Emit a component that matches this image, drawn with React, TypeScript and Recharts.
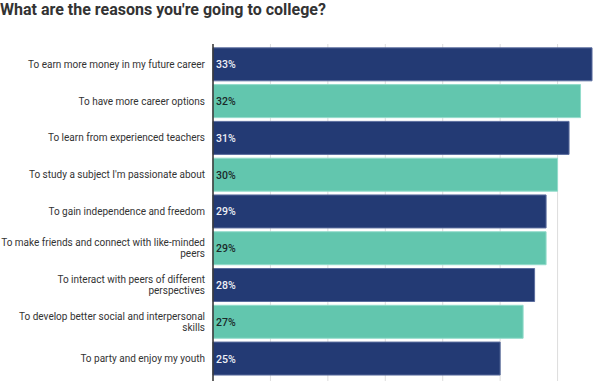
import { BarChart, Bar, XAxis, YAxis, CartesianGrid, Cell, LabelList } from 'recharts';

// Survey answers, top to bottom
const reasons = [
  'To earn more money in my future career',
  'To have more career options',
  'To learn from experienced teachers',
  "To study a subject I'm passionate about",
  'To gain independence and freedom',
  'To make friends and connect with like-minded peers',
  'To interact with peers of different perspectives',
  'To develop better social and interpersonal skills',
  'To party and enjoy my youth',
];
const shares = [33, 32, 31, 30, 29, 29, 28, 27, 25];
const xTicks = [0, 5, 10, 15, 20, 25, 30, 35];

const NAVY = '#233a74';
const TEAL = '#62c6ae';
const FONT = 'Roboto, "Noto Sans", sans-serif';
const TICK_FONT_SIZE = 10;
const LABEL_WIDTH = 205;

const data = reasons.map((reason, i) => ({ reason, share: shares[i] }));

let ctx: CanvasRenderingContext2D | null = null;
function measure(s: string) {
  if (!ctx) {
    ctx = document.createElement('canvas').getContext('2d');
    if (ctx) ctx.font = `${TICK_FONT_SIZE}px ${FONT}`;
  }
  return ctx ? ctx.measureText(s).width : s.length * 4.7;
}

// greedy word wrap, canvas-measured
function wrap(label: string) {
  const lines: string[] = [];
  let cur = '';
  for (const w of label.split(' ')) {
    const next = cur ? `${cur} ${w}` : w;
    if (cur && measure(next) > LABEL_WIDTH) {
      lines.push(cur);
      cur = w;
    } else cur = next;
  }
  if (cur) lines.push(cur);
  return lines;
}

function ReasonTick(props: any) {
  const { y, payload } = props;
  const right = 205;
  const lines = wrap(payload.value);
  const lh = 11.3;
  const y0 = y - ((lines.length - 1) * lh) / 2 + 3.5;
  return (
    <text x={right} y={y0} textAnchor="end" fontSize={TICK_FONT_SIZE} fontFamily={FONT} fill="#333">
      {lines.map((l, i) => (
        <tspan key={i} x={right} y={y0 + i * lh}>
          {l}
        </tspan>
      ))}
    </text>
  );
}

function ShareLabel(props: any) {
  const { x, y, height, value, index } = props;
  return (
    <text
      x={x + 3}
      y={y + height / 2}
      dy={4}
      fontSize={10.5}
      fontWeight={500}
      fontFamily={FONT}
      fill={index % 2 === 0 ? '#eef0f6' : '#1b2a2a'}
    >
      {value}%
    </text>
  );
}

export default function App() {
  return (
    <div style={{ position: 'absolute', left: 0, top: 0, width: 600, height: 381, overflow: 'hidden', background: '#fff' }}>
      <div
        style={{
          position: 'absolute',
          left: 0,
          top: 0,
          fontFamily: FONT,
          fontWeight: 700,
          fontSize: 16,
          color: '#333',
          lineHeight: '19px',
          whiteSpace: 'nowrap',
        }}
      >
        What are the reasons you're going to college?
      </div>
      <BarChart
        width={620}
        height={400}
        data={data}
        layout="vertical"
        margin={{ top: 44, right: 5, bottom: 0, left: 0 }}
        barCategoryGap="5%"
      >
        <CartesianGrid horizontal={false} stroke="#dddddd" />
        <XAxis type="number" hide domain={[0, 35]} ticks={xTicks} />
        <YAxis
          type="category"
          dataKey="reason"
          width={213}
          tickLine={false}
          axisLine={{ stroke: '#333', strokeWidth: 1.5 }}
          tick={<ReasonTick />}
          padding={{ top: 2, bottom: 23 }}
          interval={0}
        />
        <Bar dataKey="share" isAnimationActive={false}>
          {data.map((d, i) => (
            <Cell
              key={d.reason}
              fill={i % 2 === 0 ? NAVY : TEAL}
              stroke={i % 2 === 0 ? '#5b6d9e' : '#93dccb'}
              strokeWidth={1}
            />
          ))}
          <LabelList dataKey="share" content={<ShareLabel />} />
        </Bar>
      </BarChart>
    </div>
  );
}
